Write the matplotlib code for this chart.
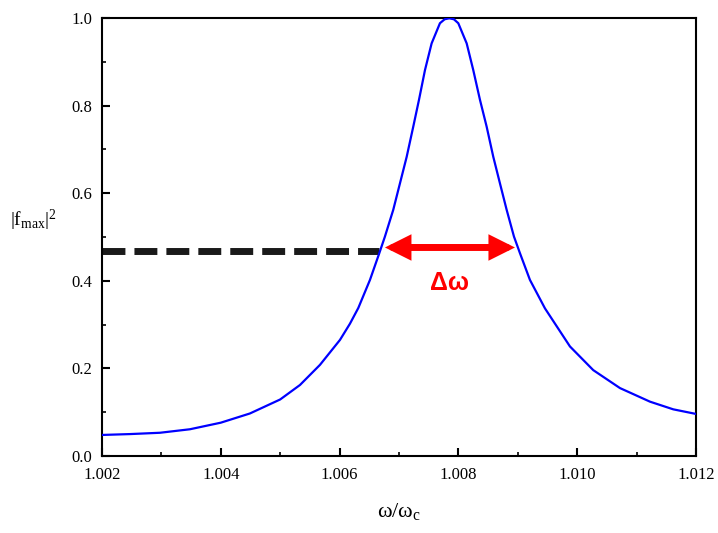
import numpy as np
import matplotlib
matplotlib.use("Agg")
import matplotlib.pyplot as plt
from matplotlib.ticker import MultipleLocator, FormatStrFormatter

# values
omega = [1.002000, 1.002471, 1.002976, 1.003481, 1.004000, 1.004490, 1.005000,
         1.005333, 1.005670, 1.006007, 1.006175, 1.006316, 1.006512, 1.006669,
         1.006764, 1.006904, 1.007017, 1.007130, 1.007241, 1.007337, 1.007438,
         1.007550, 1.007690, 1.007769, 1.007847, 1.007925, 1.007999, 1.008140,
         1.008251, 1.008364, 1.008476, 1.008588, 1.008700, 1.008813, 1.008936,
         1.009037, 1.009205, 1.009458, 1.009879, 1.010271, 1.010721, 1.011226,
         1.011618, 1.012000]
fmax2 = [0.048, 0.050, 0.053, 0.061, 0.076, 0.097, 0.129,
         0.162, 0.208, 0.265, 0.302, 0.338, 0.402, 0.463,
         0.501, 0.562, 0.6225, 0.683, 0.752, 0.813, 0.881,
         0.942, 0.988, 0.997, 0.9993, 0.997, 0.988, 0.942,
         0.881, 0.813, 0.752, 0.683, 0.6225, 0.562, 0.501,
         0.463, 0.402, 0.337, 0.250, 0.196, 0.155, 0.124,
         0.1065, 0.096]

dash_level = 0.469
arrow_level = 0.476
dash_end = 1.006663
w_left = 1.006764
w_right = 1.008953

plt.rcParams['font.family'] = ['Liberation Serif', 'DejaVu Serif']
plt.rcParams['mathtext.fontset'] = 'custom'
plt.rcParams['mathtext.rm'] = 'Liberation Serif'
plt.rcParams['mathtext.it'] = 'Liberation Serif'

fig = plt.figure(figsize=(7.18, 5.33), dpi=100)
ax = fig.add_axes([0.142, 0.1445, 0.8273, 0.8218])

ax.plot(omega, fmax2, color='#0000ff', lw=1.6, zorder=3)

# dashed level line
ax.plot([1.002, dash_end], [dash_level, dash_level], color='#1a1a1a', lw=5,
        dashes=(3.3, 1.3), solid_capstyle='butt', dash_capstyle='butt', zorder=2)

# double arrow for the width
ax.annotate('', xy=(w_right, arrow_level), xytext=(w_left, arrow_level),
            arrowprops=dict(arrowstyle='<|-|>,head_length=1.1,head_width=0.55',
                            mutation_scale=10, lw=5, color='#ff0000',
                            shrinkA=0, shrinkB=0, joinstyle='miter'), zorder=4)
ax.text((w_left + w_right) / 2, 0.396, 'Δω', color='#ff0000', fontsize=18,
        fontweight='bold', family=['Liberation Sans', 'DejaVu Sans'],
        ha='center', va='center')

ax.set_xlim(1.002, 1.012)
ax.set_ylim(0, 1.0)
ax.xaxis.set_major_locator(MultipleLocator(0.002))
ax.xaxis.set_minor_locator(MultipleLocator(0.001))
ax.yaxis.set_major_locator(MultipleLocator(0.2))
ax.yaxis.set_minor_locator(MultipleLocator(0.1))
ax.xaxis.set_major_formatter(FormatStrFormatter('%.3f'))
ax.yaxis.set_major_formatter(FormatStrFormatter('%.1f'))

for s in ax.spines.values():
    s.set_linewidth(1.5)
ax.tick_params(which='both', direction='in', top=False, right=False, labelsize=12)
ax.tick_params(which='major', length=6, width=1.5)
ax.tick_params(which='minor', length=3, width=1.2)
ax.tick_params(axis='x', pad=8)
ax.tick_params(axis='y', pad=7)

ax.set_xlabel('ω/ω$_{\\mathrm{c}}$', fontsize=16, labelpad=13)
ax.set_ylabel('|f$_{\\mathrm{max}}$|$^{2}$', fontsize=14, rotation=0)
ax.yaxis.set_label_coords(-0.116, 0.51)

fig.savefig('out.png', dpi=100)
